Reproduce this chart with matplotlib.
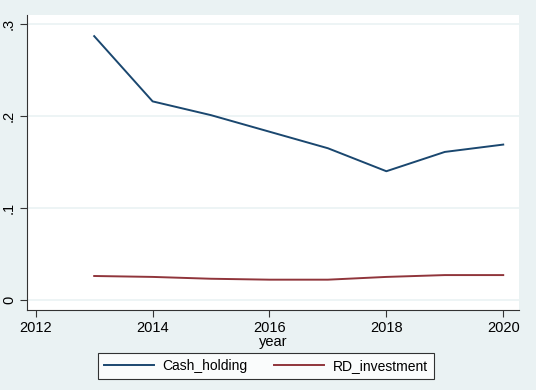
import matplotlib
matplotlib.use('Agg')
import matplotlib.pyplot as plt

plt.rcParams['font.family'] = ['Liberation Sans', 'DejaVu Sans']

years = [2013, 2014, 2015, 2016, 2017, 2018, 2019, 2020]
cash_holding = [0.287, 0.216, 0.201, 0.183, 0.165, 0.140, 0.161, 0.169]
rd_investment = [0.026, 0.025, 0.023, 0.022, 0.022, 0.025, 0.027, 0.027]

xticks = [2012, 2014, 2016, 2018, 2020]
yticks = [0, 0.1, 0.2, 0.3]
ylabels = ['0', '.1', '.2', '.3']

bg = '#EAF2F3'
fig = plt.figure(figsize=(5.36, 3.9), dpi=100, facecolor=bg)
ax = fig.add_axes([27/536, 1-310/390, (519-27)/536, (310-15)/390])
ax.set_facecolor('white')

l1, = ax.plot(years, cash_holding, color='#1A476F', lw=1.4, label='Cash_holding')
l2, = ax.plot(years, rd_investment, color='#90353B', lw=1.4, label='RD_investment')

ax.set_xlim(2011.85, 2020.27)
ax.set_ylim(-0.011, 0.31)
ax.set_xticks(xticks)
ax.set_yticks(yticks)
ax.set_yticklabels(ylabels, rotation=90, va='center')
ax.tick_params(labelsize=10.5, length=5, color='#333333', pad=3)
ax.grid(axis='y', color='#EAF2F3', lw=1.2)
ax.set_axisbelow(True)
for s in ['top', 'right']:
    ax.spines[s].set_visible(False)
for s in ['left', 'bottom']:
    ax.spines[s].set_color('#333333')
ax.set_xlabel('year', fontsize=10.5, labelpad=0)

leg = fig.legend(handles=[l1, l2], loc='center', bbox_to_anchor=(266/536, 1-366/390),
                 ncol=2, frameon=True, fancybox=False, edgecolor='black',
                 fontsize=10, handlelength=3.6, handletextpad=0.6,
                 columnspacing=1.9, borderpad=0.45)
leg.get_frame().set_linewidth(0.8)

fig.savefig('out.png', dpi=100, facecolor=bg)
